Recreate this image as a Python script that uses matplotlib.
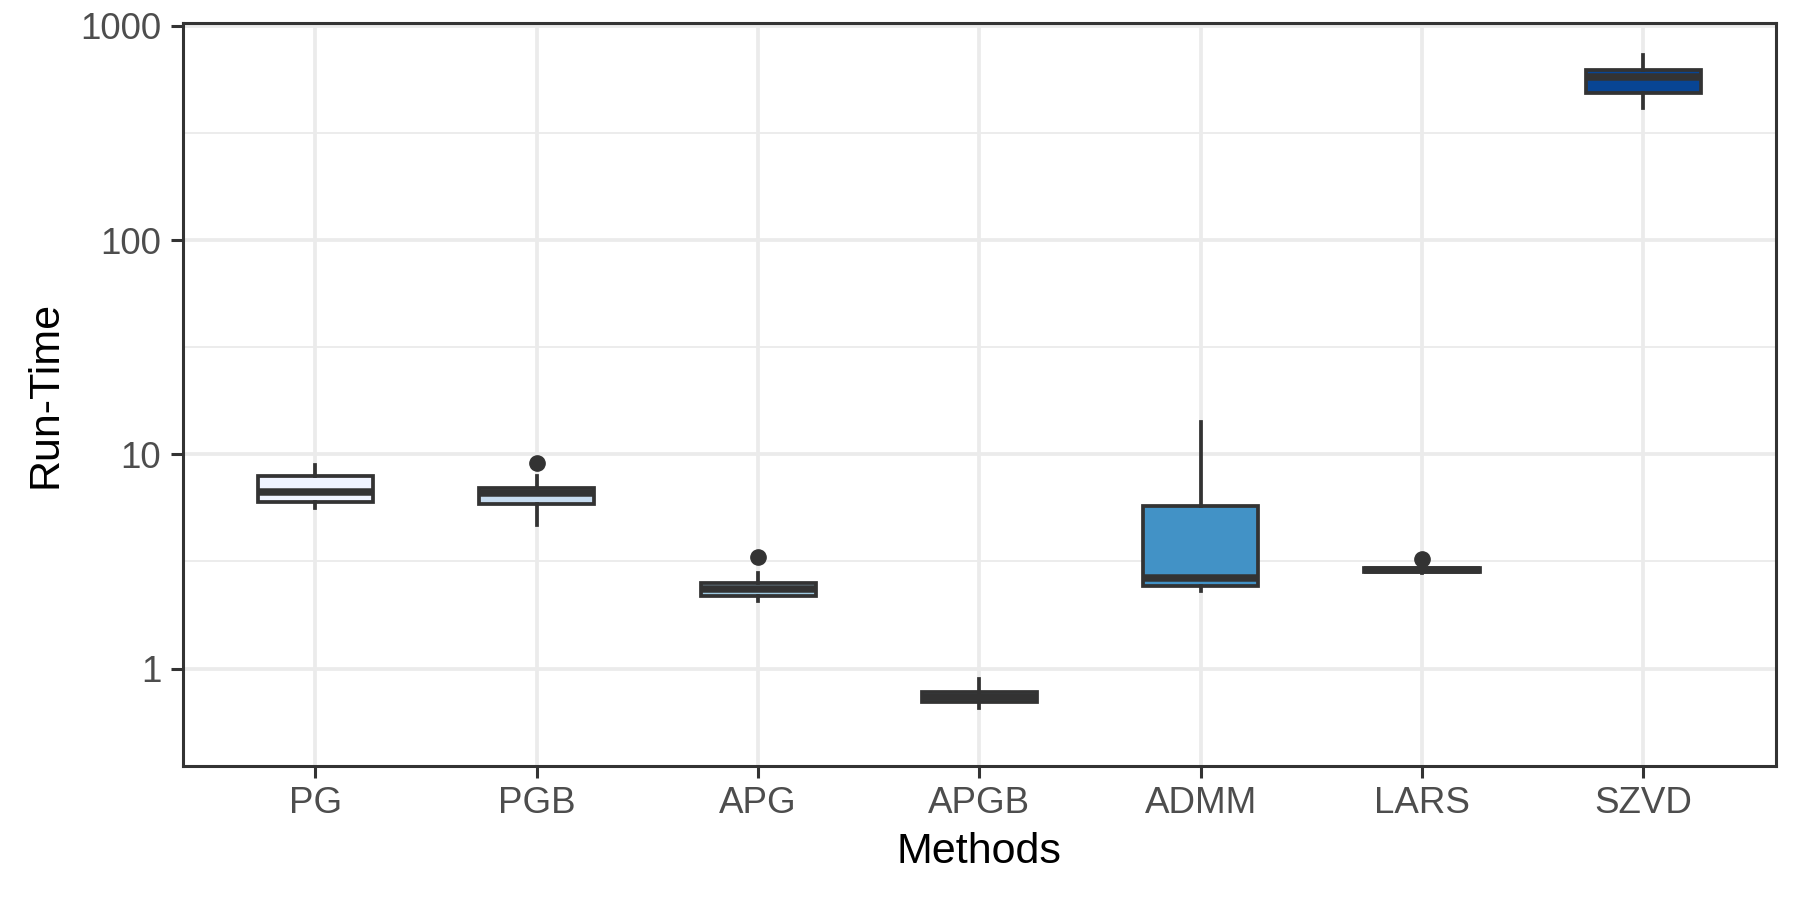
import matplotlib
matplotlib.use("Agg")
import matplotlib.pyplot as plt
from matplotlib.ticker import FixedLocator, NullFormatter

plt.rcParams['font.family'] = ['Liberation Sans', 'DejaVu Sans']

methods = ["PG", "PGB", "APG", "APGB", "ADMM", "LARS", "SZVD"]
q1 = [5.97, 5.89, 2.17, 0.697, 2.44, 2.815, 485]
med = [6.67, 6.58, 2.35, 0.735, 2.66, 2.88, 576]
q3 = [7.95, 6.95, 2.52, 0.776, 5.76, 2.955, 621]
whislo = [5.60, 4.68, 2.07, 0.653, 2.31, 2.78, 414]
whishi = [8.95, 7.89, 2.79, 0.892, 14.1, 3.00, 730]
outliers = [[], [9.15], [3.30], [], [], [3.26], []]
fills = ["#EFF3FF", "#C6DBEF", "#9ECAE1", "#6BAED6", "#4292C6", "#2171B5", "#084594"]
y_ticks = [1, 10, 100, 1000]
y_ticklabels = ["1", "10", "100", "1000"]

fig = plt.figure(figsize=(18, 9), dpi=100)
ax = fig.add_axes([0.1015, 0.1489, 0.9867 - 0.1015, 0.9744 - 0.1489])

stats = []
for i, m in enumerate(methods):
    stats.append(dict(label=m, q1=q1[i], med=med[i], q3=q3[i],
                      whislo=whislo[i], whishi=whishi[i], fliers=outliers[i]))

dark = "#333333"
pos = list(range(1, len(methods) + 1))
bp = ax.bxp(stats, positions=pos, widths=0.52, patch_artist=True, showcaps=False,
            boxprops=dict(edgecolor=dark, linewidth=2.7),
            medianprops=dict(color=dark, linewidth=5.4, solid_capstyle='butt'),
            whiskerprops=dict(color=dark, linewidth=2.7),
            flierprops=dict(marker='o', markerfacecolor=dark, markeredgecolor=dark,
                            markersize=11, linestyle='none'),
            zorder=3)
for patch, c in zip(bp['boxes'], fills):
    patch.set_facecolor(c)

ax.set_yscale('log')
ax.set_ylim(0.351, 1030)
ax.set_xlim(0.4, len(methods) + 0.6)
ax.yaxis.set_major_locator(FixedLocator(y_ticks))
ax.set_yticklabels(y_ticklabels)
ax.yaxis.set_minor_locator(FixedLocator([10 ** 0.5, 10 ** 1.5, 10 ** 2.5]))
ax.yaxis.set_minor_formatter(NullFormatter())
ax.set_xticks(pos)
ax.set_xticklabels(methods)

ax.grid(True, which='major', color='#EBEBEB', linewidth=2.7, zorder=0)
ax.grid(True, which='minor', axis='y', color='#EBEBEB', linewidth=1.3, zorder=0)
ax.set_axisbelow(True)

for s in ax.spines.values():
    s.set_color(dark)
    s.set_linewidth(2.2)

ax.tick_params(axis='both', which='major', color=dark, width=2.2, length=8.5,
               labelsize=26.5, labelcolor='#4D4D4D')
ax.tick_params(axis='x', pad=6)
ax.tick_params(axis='y', pad=7)
ax.tick_params(axis='y', which='minor', length=0)

ax.set_xlabel("Methods", fontsize=31, color='black')
ax.set_ylabel("Run-Time", fontsize=31, color='black')
ax.xaxis.label.set_va('center')
ax.yaxis.label.set_va('center')
ax.xaxis.set_label_coords(0.5, (766 - 851.7) / 743)
ax.yaxis.set_label_coords((46 - 182.7) / 1593, 0.5)

fig.savefig("out.png", dpi=100, facecolor='white')
